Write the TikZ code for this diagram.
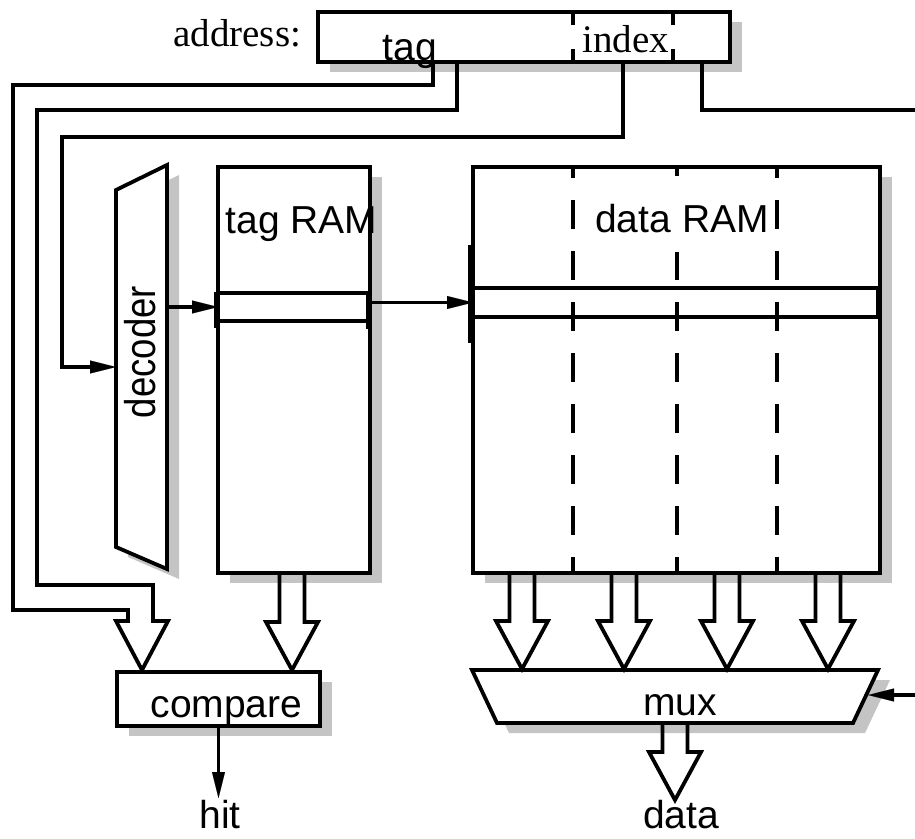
\documentclass[tikz,border=0pt]{standalone}
\usepackage{fontspec}
\setmainfont{Liberation Serif}
\setsansfont{Liberation Sans}
\usepackage{tikz}
\usetikzlibrary{calc, shadows, arrows.meta}
\tikzset{>={Triangle[length=26pt,width=13pt,line width=0.1pt]},
blk/.style={draw, fill=white, inner sep=0pt, outer sep=0pt},
frame/.style={inner sep=0pt, outer sep=0pt},
shd/.style={drop shadow={shadow xshift=12pt, shadow yshift=-10pt, fill=black!23, opacity=1}},
lbl/.style={font=\sffamily\fontsize{39}{47}\selectfont, inner sep=0pt, anchor=base},
rmlbl/.style={font=\rmfamily\fontsize{39}{47}\selectfont, inner sep=0pt, anchor=base},
wordmark/.style={line width=5.5pt}}
% hollow bus arrow: #1 top of the shaft, #2 tip
\newcommand{\busarrow}[2]{\draw ($#1+(-12.5,0)$) |- ($(#2)+(-26,-48)$) -- (#2) -- ($(#2)+(26,-48)$) -| ($#1+(12.5,0)$);}

\begin{document}
\begin{tikzpicture}[x=1pt, y=-1pt, line width=3.8pt]
\useasboundingbox (0,0) rectangle (915,838);
% address
\node[blk, shd, minimum width=412pt, minimum height=50pt] (addr) at (524,37) {};
\foreach \dx in {255,355}
  \draw[dash pattern=on 13pt off 24pt] ($(addr.north west)+(\dx,0)$) -- ($(addr.south west)+(\dx,0)$);
\node[rmlbl, anchor=base east] (addrlbl) at (303,46) {address:};
\node[lbl] (taglbl) at (410,60) {tag};
\node[rmlbl] (idxlbl) at (625.5,52) {index};
% decoder
\node[frame, minimum width=51pt, minimum height=404pt] (dec) at (141.5,367) {};
\draw[shd, fill=white] (dec.north east) -- (dec.south east) -- ($(dec.south west)+(0,-22)$) -- ($(dec.north west)+(0,25)$) -- cycle;
\node[font=\sffamily\fontsize{43}{50}\selectfont, inner sep=0pt, rotate=90] (declbl) at (140,352) {\scalebox{0.85}[1]{decoder}};
% tag RAM
\node[blk, shd, minimum width=152pt, minimum height=406pt] (tagram) at (294,370) {};
\node[draw, frame, minimum width=152pt, minimum height=28pt] (tagrow) at (294,307) {};
\draw[wordmark] ($(tagrow.north west)+(-1,-1)$) -- ($(tagrow.south west)+(-1,7)$);
\draw[wordmark] ($(tagrow.north east)+(-1,-1)$) -- ($(tagrow.south east)+(-1,8)$);
\node[lbl] (tagramlbl) at (301.5,233) {tag RAM};
% data RAM
\node[blk, shd, minimum width=407pt, minimum height=406pt] (dataram) at (676.5,370) {};
\node[draw, frame, minimum width=407pt, minimum height=29pt] (datarow) at (676.5,302.5) {};
\foreach \dx in {100,204,304}
  \draw[dash pattern=on 29pt off 22pt, dash phase=18pt] ($(dataram.north west)+(\dx,0)$) -- ($(dataram.south west)+(\dx,0)$);
\draw[wordmark] ($(dataram.west)+(-2,-125)$) -- ($(dataram.west)+(-2,-27)$);
\draw[wordmark] ($(datarow.north east)+(-1,0)$) -- ($(datarow.south east)+(-1,0)$);
\node[lbl, fill=white, text height=56pt, text depth=20pt] (dataramlbl) at (682,232) {data RAM};
% compare and mux
\node[blk, shd, minimum width=203pt, minimum height=54pt] (compare) at (218.5,699) {};
\node[lbl] (cmplbl) at (226.5,717) {compare};
\node[frame, minimum width=406pt, minimum height=53pt] (mux) at (675,696.5) {};
\draw[shd, fill=white] (mux.north west) -- (mux.north east) -- ($(mux.south east)+(-25,0)$) -- ($(mux.south west)+(25,0)$) -- cycle;
\node[lbl] (muxlbl) at (680,715) {mux};

\coordinate (tagA) at ($(addr.south west)+(115,0)$);
\coordinate (tagB) at ($(addr.south west)+(139,0)$);
\coordinate (idx) at ($(addr.south west)+(305,0)$);
\coordinate (offs) at ($(addr.south west)+(384,0)$);
\coordinate (cmpA) at ($(compare.north west)+(25,-2)$);
\coordinate (cmpB) at ($(compare.north west)+(175,-2)$);
\coordinate (sel) at (915,110);
\coordinate (selin) at (915,695);
\coordinate (hit) at ($(compare.south)+(0,72)$);
\coordinate (dout) at ($(mux.south)+(0,77)$);

% tag bits into compare
\draw (tagA) |- (13,85) |- ($(cmpA)+(-14,-60)$) -- ($(cmpA)+(-14,-49)$) -- ($(cmpA)+(-26,-49)$) -- (cmpA) -- ($(cmpA)+(26,-49)$) -- ($(cmpA)+(11,-49)$) |- (37,585) |- ($(tagB)+(0,48)$) -- (tagB);
\busarrow{(tagram.south -| cmpB)}{cmpB}
\foreach \dx in {50,152,255,356} {
  \coordinate (mx) at ($(mux.north west)+(\dx,-1)$);
  \busarrow{(dataram.south -| mx)}{mx}
}
\busarrow{(mux.south)}{dout}
% index, word line
\draw[->] (idx) |- (62,137) |- (dec.west);
\draw[->] (dec.east |- tagrow) -- (tagrow.west);
\draw[->] (tagrow.east |- datarow) -- (datarow.west);
% offset bits, mux select
\draw (offs) |- (sel);
\draw[->] (selin) -- ($(mux.east)+(-10,-1.5)$);
\draw[->] (compare.south) -- (hit);
\node[lbl] (hitlbl) at (220,828) {hit};
\node[lbl] (datalbl) at (681,828) {data};
\end{tikzpicture}
\end{document}
